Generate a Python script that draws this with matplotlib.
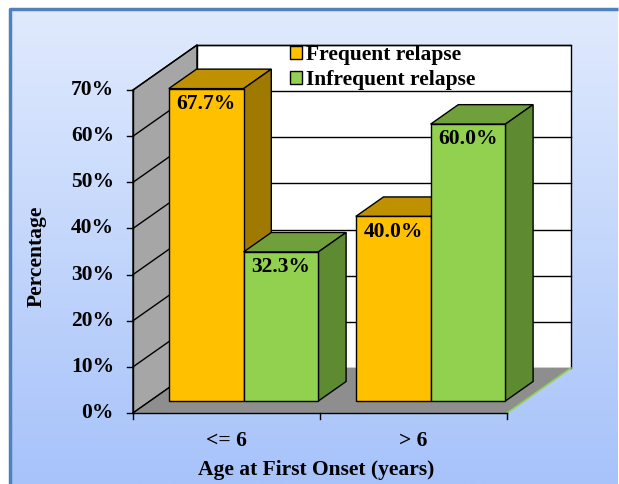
import numpy as np
import matplotlib.pyplot as plt
from matplotlib.patches import Polygon, Rectangle, Patch

# data
categories = ["<= 6", "> 6"]
series_names = ["Frequent relapse", "Infrequent relapse"]
frequent = [67.7, 40.0]
infrequent = [32.3, 60.0]
yticks = [0, 10, 20, 30, 40, 50, 60, 70]

front_cols = ["#FFC000", "#92D050"]
top_cols = ["#BF9000", "#70A03C"]
side_cols = ["#A07A00", "#5E8A32"]

W, H = 619, 484
plt.rcParams['font.family'] = ['Liberation Serif', 'DejaVu Serif']
plt.rcParams['font.weight'] = 'bold'
FS = 15.5

fig = plt.figure(figsize=(W / 100, H / 100), dpi=100)

# background with gradient and blue frame
bg = fig.add_axes([0, 0, 1, 1], zorder=0)
bg.set_xlim(0, W)
bg.set_ylim(H, 0)
bg.axis('off')
grad = np.linspace(0, 1, 256).reshape(-1, 1)
top_c = np.array([0xE0, 0xEA, 0xFD]) / 255
bot_c = np.array([0xA7, 0xC3, 0xFA]) / 255
img = top_c[None, None, :] * (1 - grad[:, :, None]) + bot_c[None, None, :] * grad[:, :, None]
bg.imshow(img, extent=(10, W - 1, H, 9), aspect='auto')
bg.plot([10, 10, W - 1], [H, 9, 9], color="#4F81BD", lw=2.5, solid_capstyle='butt')

# chart axes: x in category units, y in percent
ax = fig.add_axes([0, 0, 1, 1], zorder=1)
ax.patch.set_alpha(0)
ax.axis('off')
px_x, x0px = 187.0, 133.0
px_y, y0px = 46.14 / 10, 413.0
ax.set_xlim((0 - x0px) / px_x, (W - x0px) / px_x)
ax.set_ylim((y0px - H) / px_y, y0px / px_y)

DX = 64 / px_x
DY = 45 / px_y
ymax = yticks[-1]
n = len(categories)

# walls and floor
ax.add_patch(Polygon([(0, 0), (DX, DY), (DX, ymax + DY), (0, ymax)],
                     facecolor="#A6A6A6", edgecolor="black", lw=1, zorder=1))
ax.add_patch(Rectangle((DX, DY), n, ymax, facecolor="white", edgecolor="black", lw=1, zorder=1))
ax.add_patch(Polygon([(0, 0), (n, 0), (n + DX, DY), (DX, DY)],
                     facecolor="#8E8E8E", edgecolor="none", zorder=1))
ax.plot([n, n + DX], [0, DY], color="#92D050", lw=1.2, zorder=1.5)
for v in yticks[1:]:
    ax.plot([DX, n + DX], [v + DY, v + DY], color="black", lw=1, zorder=1.5)
for v in yticks:
    ax.plot([0, DX], [v, v + DY], color="black", lw=1, zorder=1.5)

# axes lines, ticks and labels
ax.plot([0, 0], [0, ymax], color="black", lw=1, zorder=1.5)
ax.plot([0, n], [0, 0], color="black", lw=1, zorder=1.5)
for v in yticks:
    ax.plot([-6 / px_x, 0], [v, v], color="black", lw=1)
    ax.text(-19 / px_x, v, f"{v}%", ha='right', va='center', fontsize=FS)
for i in range(n + 1):
    ax.plot([i, i], [0, -6 / px_y], color="black", lw=1)
for i, c in enumerate(categories):
    ax.text(i + 0.5, -28 / px_y, c, ha='center', va='center', fontsize=FS)
ax.text(0.98, -57 / px_y, "Age at First Onset (years)", ha='center', va='center', fontsize=FS)
ax.text(-96 / px_x, 34, "Percentage", ha='center', va='center', rotation=90, fontsize=FS)

# 3d bars
bar_w = 0.40
d0, d1 = 0.267, 0.70
ox0, oy0 = d0 * DX, d0 * DY
ox1, oy1 = d1 * DX, d1 * DY
for i in range(n):
    for s, vals in enumerate([frequent, infrequent]):
        h = vals[i]
        xl = i + 0.5 - bar_w + s * bar_w
        xr = xl + bar_w
        ax.add_patch(Polygon([(xl + ox0, h + oy0), (xr + ox0, h + oy0),
                              (xr + ox1, h + oy1), (xl + ox1, h + oy1)],
                             facecolor=top_cols[s], edgecolor="black", lw=1, zorder=3))
        ax.add_patch(Polygon([(xr + ox0, oy0), (xr + ox1, oy1),
                              (xr + ox1, h + oy1), (xr + ox0, h + oy0)],
                             facecolor=side_cols[s], edgecolor="black", lw=1, zorder=3))
        ax.add_patch(Rectangle((xl + ox0, oy0), bar_w, h,
                               facecolor=front_cols[s], edgecolor="black", lw=1, zorder=3))
        ax.annotate(f"{h:.1f}%", ((xl + xr) / 2 + ox0, h + oy0), xytext=(0, -11),
                    textcoords='offset points', ha='center', va='center',
                    fontsize=FS, zorder=5)

handles = [Patch(facecolor=c, edgecolor="black") for c in front_cols]
fig.legend(handles, series_names, loc='upper left', bbox_to_anchor=(290 / W, 1 - 45 / H),
           frameon=False, fontsize=FS, handlelength=0.55, handleheight=0.55,
           handletextpad=0.2, labelspacing=0.25, borderpad=0, borderaxespad=0)

fig.savefig("out.png", dpi=100)
